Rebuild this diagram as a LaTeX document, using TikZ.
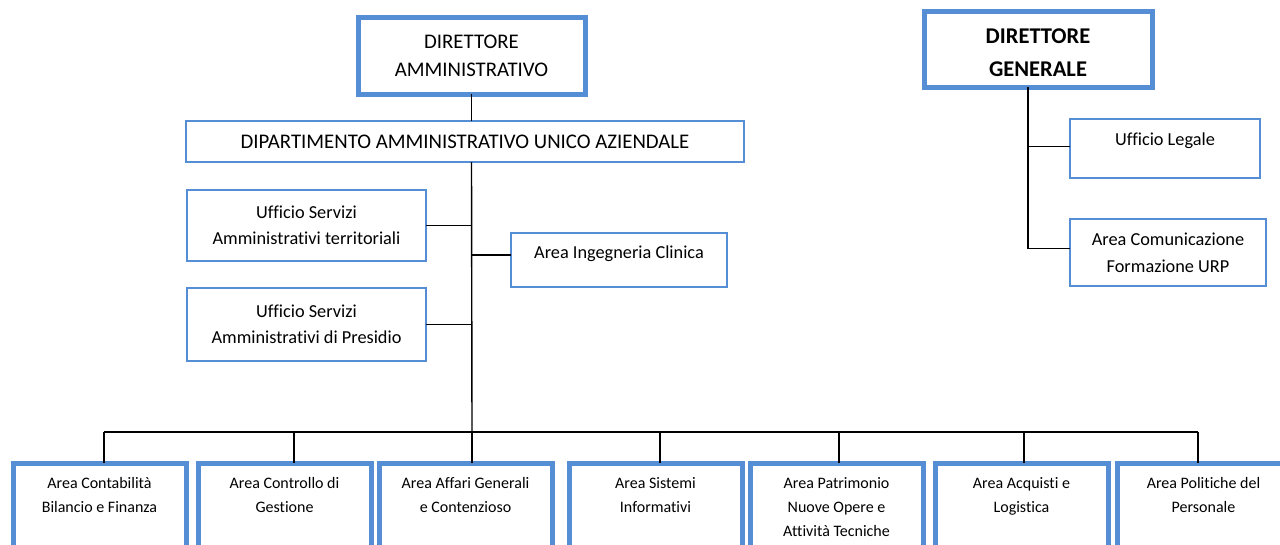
\documentclass[tikz,border=0pt]{standalone}
\usepackage{fontspec}
\setmainfont{Carlito}[Ligatures=NoCommon]
\definecolor{boxblue}{RGB}{85,142,213}
\tikzset{
	box/.style={draw=boxblue, fill=white, line width=2.5pt, inner sep=0pt, outer sep=0pt, anchor=north west, align=center, font=\fontsize{18.3}{26}\selectfont},
	topbox/.style={box, line width=5pt},
	areabox/.style={box, line width=5pt, minimum width=173pt, minimum height=110pt},
	areatext/.style={anchor=north, yshift=-11pt, align=center, font=\fontsize{16}{24}\selectfont},
	link/.style={draw=black, line width=1.4pt}
}

\begin{document}
\begin{tikzpicture}[x=1pt, y=-1pt]
		\useasboundingbox (0,0) rectangle (1280,544);
		\node[topbox, minimum width=227pt, minimum height=77pt, font=\fontsize{20.8}{28}\selectfont] (damm) at (358,17) {DIRETTORE\\AMMINISTRATIVO};
		\node[topbox, minimum width=228pt, minimum height=76pt, font=\bfseries\fontsize{22.5}{33}\selectfont] (dgen) at (924,11) {\rule{0pt}{23pt}DIRETTORE\\GENERALE};
		\node[box, minimum width=558pt, minimum height=41pt, font=\fontsize{20.8}{28}\selectfont] (dip) at (186,121) {DIPARTIMENTO AMMINISTRATIVO UNICO AZIENDALE};
		\node[box, minimum width=239pt, minimum height=71pt] (uterr) at (187,190) {Ufficio Servizi\\Amministrativi territoriali};
		\node[box, minimum width=216pt, minimum height=54pt, text depth=16pt] (aic) at (511,233) {Area Ingegneria Clinica};
		\node[box, minimum width=239pt, minimum height=73pt] (upres) at (187,288) {Ufficio Servizi\\Amministrativi di Presidio};
		\node[box, minimum width=190pt, minimum height=59pt, text depth=19pt] (uleg) at (1070,119) {Ufficio Legale};
		\node[box, minimum width=196pt, minimum height=67pt, font=\fontsize{18.3}{27}\selectfont] (acom) at (1070,219) {Area Comunicazione\\Formazione URP};
		% aree del dipartimento
		\node[areabox, label={[areatext]north:Area Contabilità\\Bilancio e Finanza}] (b1) at (13,463) {};
		\node[areabox, label={[areatext]north:Area Controllo di\\Gestione}] (b2) at (198,463) {};
		\node[areabox, label={[areatext]north:Area Affari Generali\\e Contenzioso}] (b3) at (379,463) {};
		\node[areabox, label={[areatext]north:Area Sistemi\\Informativi}] (b4) at (569,463) {};
		\node[areabox, label={[areatext]north:Area Patrimonio\\Nuove Opere e\\Attività Tecniche}] (b5) at (750,463) {};
		\node[areabox, label={[areatext]north:Area Acquisti e\\Logistica}] (b6) at (935,463) {};
		\node[areabox, label={[areatext]north:Area Politiche del\\Personale}] (b7) at (1117,463) {};
		\coordinate (bus) at (472,432);
		\draw[link] (damm.south) -- (damm.south |- dip.north);
		\draw[link] (damm.south |- dip.south) -- (bus);
		\draw[link] (uterr.east) -- (uterr.east -| bus);
		\draw[link] ([yshift=5pt]aic.west) -- ([yshift=5pt]aic.west -| bus);
		\draw[link] (upres.east) -- (upres.east -| bus);
		\foreach \x [count=\i] in {104,294,472,660,839,1024,1198}
			\coordinate (d\i) at (\x,432);
		\draw[link] (d1) -- (d7);
		\foreach \i in {1,...,7}
			\draw[link] (d\i) -- (d\i |- b\i.north);
		\coordinate (gtop) at ([xshift=-10pt]dgen.south);
		\draw[link] (gtop) |- ([yshift=4pt]acom.west);
		\draw[link] ([yshift=2pt]uleg.west) -- ([yshift=2pt]uleg.west -| gtop);
\end{tikzpicture}
\end{document}
